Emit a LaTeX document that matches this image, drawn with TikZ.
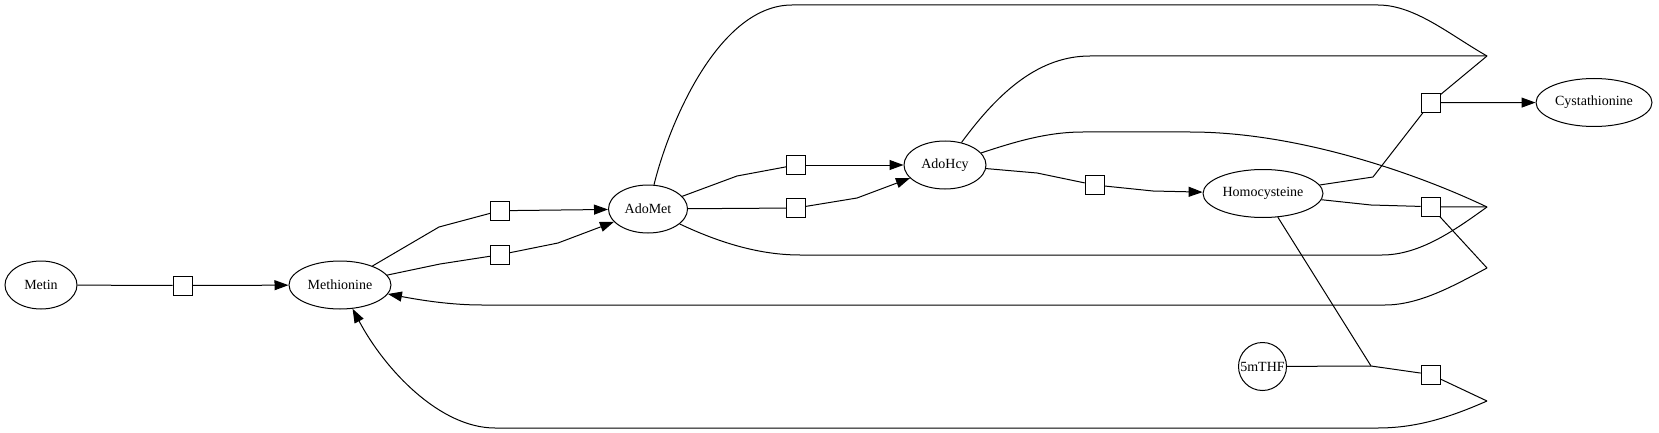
\documentclass[tikz,border=0pt]{standalone}
\usepackage{fontspec}
\setmainfont{Liberation Serif}
\usetikzlibrary{arrows.meta,shapes.geometric}

\begin{document}
\begin{tikzpicture}[x=1pt,y=-1pt,line width=1pt,>={Triangle[length=14pt,width=10pt]},
  species/.style={shape=ellipse,draw,inner sep=0pt,minimum height=48pt,font=\fontsize{14}{16}\selectfont},
  reaction/.style={shape=rectangle,draw,inner sep=0pt,minimum size=19pt}]
\useasboundingbox (0,0) rectangle (1659,433);
\node (Metin)         at (41,285)     [species,minimum width=72pt] {Metin};
\node (Methionine)    at (340,285)    [species,minimum width=102pt] {Methionine};
\node (AdoMet)        at (648,209)    [species,minimum width=79pt] {AdoMet};
\node (AdoHcy)        at (945,165)    [species,minimum width=82pt] {AdoHcy};
\node (Homocysteine)  at (1263,193.5) [species,minimum width=120pt] {Homocysteine};
\node (Cystathionine) at (1594,102.5) [species,minimum width=116pt] {Cystathionine};
\node (5mTHF)         at (1262.5,366.5) [species,shape=circle,minimum size=48pt] {5mTHF};
\node (r0)  at (182.5,285.5) [reaction] {};
\node (r1a) at (500,210.7)   [reaction] {};
\node (r1b) at (500,254.7)   [reaction] {};
\node (r2a) at (796,165)     [reaction] {};
\node (r2b) at (796,208)     [reaction] {};
\node (r3)  at (1094.7,185)  [reaction] {};
\node (r4)  at (1430.7,102.7) [reaction] {};
\node (r5)  at (1430.7,206.7) [reaction] {};
\node (r6)  at (1430.7,374.5) [reaction] {};
\coordinate (p1) at (1487,56);
\coordinate (p2) at (1487,207);
\coordinate (p3) at (1487,268);
\coordinate (p4) at (1487,401);
\coordinate (j6) at (1371,366);
\draw (Metin) -- (r0);
\draw [->] (r0) -- (Methionine);
\draw (Methionine) -- (439,227) -- (r1a);
\draw [->] (r1a) -- (AdoMet);
\draw (Methionine) -- (440,264) -- (r1b);
\draw [->] (r1b) -- (558,243) -- (AdoMet);
\draw (AdoMet) -- (737,176) -- (r2a);
\draw (AdoMet) -- (r2b);
\draw [->] (r2a) -- (AdoHcy);
\draw [->] (r2b) -- (857,198) -- (AdoHcy);
\draw (AdoHcy) -- (1037,173) -- (r3);
\draw [->] (r3) -- (1153,191) -- (Homocysteine);
\draw (Homocysteine) -- (1373,177) -- (r4);
\draw [->] (r4) -- (Cystathionine);
\draw (Homocysteine) -- (1371,205) -- (r5);
\draw (r4) -- (p1);
\draw (r5) -- (p2);
\draw (r5) -- (p3);
\draw (Homocysteine) -- (j6);
\draw (5mTHF) -- (j6) -- (r6);
\draw (r6) -- (p4);
\draw (AdoMet) .. controls (670,120) and (720,5) .. (792,5) -- (1378,5) .. controls (1415,5) and (1450,35) .. (p1);
\draw (AdoHcy) .. controls (1000,90) and (1040,56) .. (1090,56) -- (p1);
\draw (AdoHcy) .. controls (1020,140) and (1050,132) .. (1083,132) -- (1190,132) .. controls (1300,132) and (1420,175) .. (p2);
\draw (AdoMet) .. controls (720,243) and (760,255) .. (800,255) -- (1382,255) .. controls (1420,255) and (1455,230) .. (p2);
\draw [->] (p3) .. controls (1455,285) and (1420,305) .. (1385,305) -- (482,305) .. controls (450,305) and (420,300) .. (Methionine);
\draw [->] (p4) .. controls (1455,415) and (1420,428) .. (1378,428) -- (495,428) .. controls (440,428) and (385,370) .. (Methionine);
\end{tikzpicture}
\end{document}
